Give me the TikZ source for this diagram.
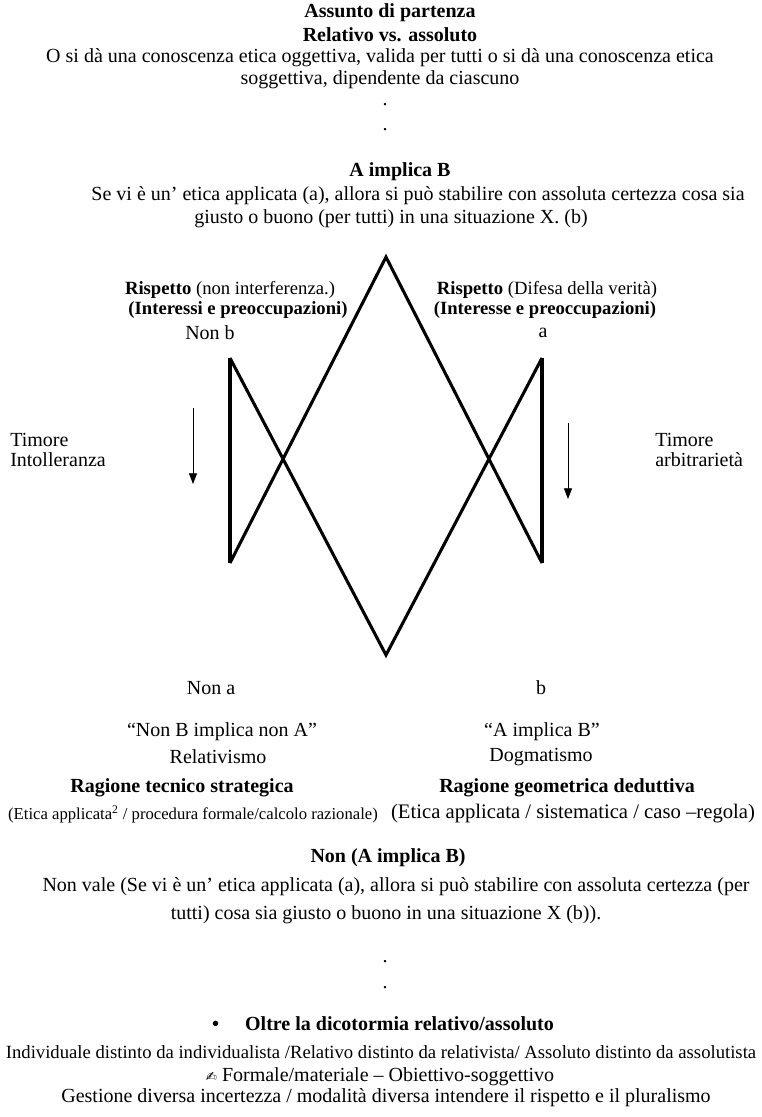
\documentclass[tikz,border=0pt]{standalone}
\usepackage{fontspec}
\setmainfont{Liberation Serif}
\newfontfamily\symfont{DejaVu Sans}
\usetikzlibrary{arrows.meta}

\begin{document}
\begin{tikzpicture}[x=0.75pt, y=-0.75pt,
    txt/.style={inner sep=0pt, align=center, font=\fontsize{15}{15}\selectfont},
    hd/.style={txt, font=\bfseries\fontsize{15}{15}\selectfont},
    small/.style={txt, font=\fontsize{14}{14}\selectfont},
    side/.style={txt, align=left, anchor=west},
    bar/.style={line width=3pt},
    diag/.style={line width=2.3pt},
    down/.style={-{Triangle[length=8pt, width=6pt]}, line width=0.6pt}]
  \useasboundingbox (0,0) rectangle (762,1117);
  % premise
  \node[hd] (assunto) at (390,13) {Assunto di partenza};
  \node[hd] (relass) at (390,35) {Relativo vs. assoluto};
  \node[txt] (prem1) at (380,58) {O si dà una conoscenza etica oggettiva, valida per tutti o si dà una conoscenza etica};
  \node[txt] (prem2) at (380,80) {soggettiva, dipendente da ciascuno};
  \node[txt] (dot1) at (385,105) {.};
  \node[txt] (dot2) at (385,130) {.};
  % implication
  \node[hd] (aimpb) at (400,172) {A implica B};
  \node[txt] (sevi1) at (418,196) {Se vi è un’ etica applicata (a), allora si  può stabilire con assoluta certezza cosa sia};
  \node[txt] (sevi2) at (391,219) {giusto o buono (per tutti) in una situazione X. (b)};
  % upper labels
  \node[small] (risp1) at (230,290) {\textbf{Rispetto} (non interferenza.)};
  \node[small, font=\bfseries\fontsize{14}{14}\selectfont] (inte1) at (238,310) {(Interessi e preoccupazioni)};
  \node[small] (risp2) at (547,290) {\textbf{Rispetto} (Difesa della verità)};
  \node[small, font=\bfseries\fontsize{14}{14}\selectfont] (inte2) at (545,310) {(Interesse e preoccupazioni)};
  \node[txt] (nonb) at (210,333) {Non b};
  \node[txt] (lbla) at (543,333) {a};
  % the figure
  \coordinate (top) at (386,257);
  \coordinate (bot) at (386,655);
  \coordinate (lt) at (230,358);
  \coordinate (lb) at (230,563);
  \coordinate (rt) at (542,358);
  \coordinate (rb) at (542,563);
  \draw[bar] (lt) -- (lb);
  \draw[bar] (rt) -- (rb);
  \draw[diag, line join=miter] (lb) -- (top) -- (rb);
  \draw[diag, line join=miter] (lt) -- (bot) -- (rt);
  % fear arrows
  \coordinate (la1) at (193,408);
  \coordinate (la2) at (193,484);
  \coordinate (ra1) at (568,423);
  \coordinate (ra2) at (568,499);
  \draw[down] (la1) -- (la2);
  \draw[down] (ra1) -- (ra2);
  \node[side] (timl) at (10,450) {Timore\\Intolleranza};
  \node[side] (timr) at (655,450) {Timore\\arbitrarietà};
  % lower labels
  \node[txt] (nona) at (211,688) {Non a};
  \node[txt] (lblb) at (541,688) {b};
  \node[txt] (contra) at (222,732) {“Non B implica non A”};
  \node[txt] (impl) at (542,732) {“A implica B”};
  \node[txt] (relat) at (218,757) {Relativismo};
  \node[txt] (dogma) at (541,757) {Dogmatismo};
  \node[hd] (ragts) at (182,788) {Ragione  tecnico strategica};
  \node[hd] (raggd) at (567,788) {Ragione geometrica deduttiva};
  \node[txt, font=\fontsize{12.5}{12.5}\selectfont] (etic1) at (193,814) {(Etica applicata\textsuperscript{2} / procedura formale/calcolo razionale)};
  \node[txt, font=\fontsize{15.5}{15.5}\selectfont] (etic2) at (573,814) {(Etica applicata / sistematica / caso –regola)};
  % negation
  \node[hd] (nonimp) at (388,858) {Non (A implica B)};
  \node[txt] (nvale1) at (396,887) {Non vale (Se vi è un’ etica applicata (a), allora si  può stabilire con assoluta certezza (per};
  \node[txt] (nvale2) at (386,915) {tutti) cosa sia giusto o buono in una situazione X (b)).};
  \node[txt] (dot3) at (385,962) {.};
  \node[txt] (dot4) at (385,988) {.};
  % beyond
  \node[hd] (oltre) at (383,1024) {•\hspace{1.3em}Oltre la dicotormia relativo/assoluto};
  \node[small] (indiv) at (381,1052) {Individuale distinto da individualista /Relativo distinto da relativista/ Assoluto distinto da assolutista};
  \node[txt] (formale) at (380,1077) {{\symfont\fontsize{10}{10}\selectfont ✍} Formale/materiale – Obiettivo-soggettivo};
  \node[txt] (gestione) at (386,1098) {Gestione diversa incertezza / modalità diversa intendere il rispetto e il pluralismo};
\end{tikzpicture}
\end{document}
